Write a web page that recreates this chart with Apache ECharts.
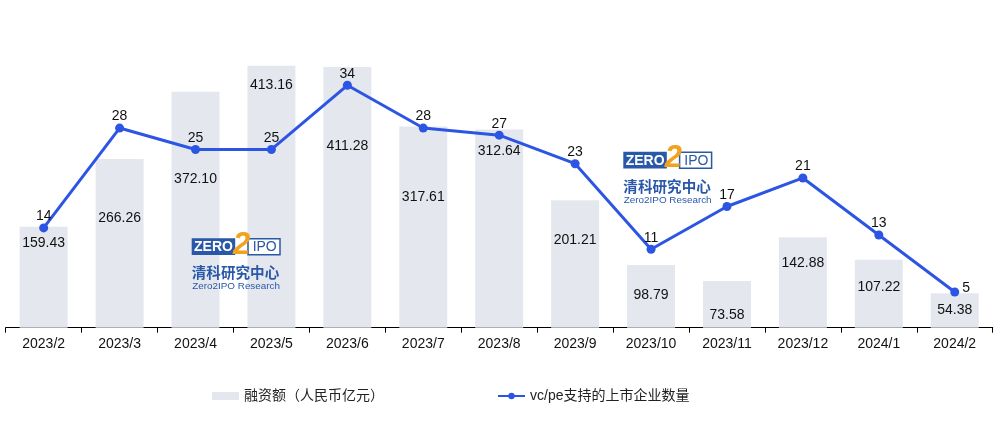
<!DOCTYPE html>
<html>
<head>
<meta charset="utf-8">
<script src="https://cdn.jsdelivr.net/npm/echarts@6/dist/echarts.min.js"></script>
<style>
html,body{margin:0;padding:0;background:#fff;}
#chart{width:998px;height:428px;}
</style>
</head>
<body>
<div id="chart"></div>
<script>
const categories = ['2023/2','2023/3','2023/4','2023/5','2023/6','2023/7','2023/8','2023/9','2023/10','2023/11','2023/12','2024/1','2024/2'];
const financing = [159.43, 266.26, 372.10, 413.16, 411.28, 317.61, 312.64, 201.21, 98.79, 73.58, 142.88, 107.22, 54.38];
const companies = [14, 28, 25, 25, 34, 28, 27, 23, 11, 17, 21, 13, 5];
const seriesNames = ['融资额（人民币亿元）', 'vc/pe支持的上市企业数量'];

// label placement (style only): distance of bar label centre below bar top
const barLabelDy = [17.6, 60, 88.7, 20.5, 80.6, 71.6, 22.3, 40.7, 30.7, 34.7, 27, 28.3, 17.7];

const FONT = '"Liberation Sans", Arial, "Noto Sans CJK SC", sans-serif';
const BLUE = '#2D55E4';
const LOGO = '#2A58A8';

function logo(ox, oy) {
  const Z = 100;
  return {
    type: 'group', z: Z, silent: true,
    children: [
      {type:'rect', z:Z, shape:{x:ox, y:oy, width:43.5, height:16.7}, style:{fill:LOGO}},
      {type:'rect', z:Z, shape:{x:ox+56.3, y:oy+0.5, width:32, height:16}, style:{fill:'#fff', stroke:LOGO, lineWidth:1.5}},
      {type:'text', z:Z+1, style:{text:'ZERO', x:ox+21.8, y:oy+9, textAlign:'center', textVerticalAlign:'middle', fill:'#fff', font:'bold 14px ' + FONT}},
      {type:'text', z:Z+1, style:{text:'IPO', x:ox+73, y:oy+9, textAlign:'center', textVerticalAlign:'middle', fill:LOGO, font:'14px ' + FONT}},
      {type:'text', z:Z+2, style:{text:'2', x:ox+50, y:oy+7, textAlign:'center', textVerticalAlign:'middle', fill:'#F2A21C', font:'italic bold 31px ' + FONT}},
      {type:'text', z:Z+1, style:{text:'清科研究中心', x:ox, y:oy+34.4, textAlign:'left', textVerticalAlign:'middle', fill:LOGO, font:'bold 14.6px "Noto Sans CJK SC", sans-serif'}},
      {type:'text', z:Z+1, style:{text:'Zero2IPO Research', x:ox+0.5, y:oy+48.4, textAlign:'left', textVerticalAlign:'middle', fill:LOGO, font:'9.9px ' + FONT}}
    ]
  };
}

const barData = financing.map((v, i) => ({
  value: v,
  label: { offset: [0, barLabelDy[i] - 8] }
}));
const lineData = companies.map((v, i) => (i === companies.length - 1
  ? { value: v, label: { position: 'right', distance: 3, offset: [0, -4] } }
  : { value: v }));

const chart = echarts.init(document.getElementById('chart'), null, {renderer: 'canvas'});
chart.setOption({
  animation: false,
  backgroundColor: '#fff',
  textStyle: { fontFamily: FONT },
  grid: { left: 5.7, right: 5.3, top: 42.5, bottom: 100.3, containLabel: false },
  legend: {
    left: 212, top: 389,
    padding: 0,
    itemGap: 113,
    itemWidth: 27, itemHeight: 8,
    textStyle: { fontSize: 14, color: '#222', fontFamily: FONT },
    data: [
      { name: seriesNames[0], icon: 'rect' },
      { name: seriesNames[1] }
    ]
  },
  xAxis: {
    type: 'category',
    data: categories,
    axisLine: { lineStyle: { color: '#000', width: 1 } },
    axisTick: { show: true, alignWithLabel: false, length: 5, lineStyle: { color: '#000' } },
    axisLabel: { color: '#111', fontSize: 14, margin: 9, fontFamily: FONT, interval: 0 },
    splitLine: { show: false }
  },
  yAxis: [
    { type: 'value', min: 0, max: 450, show: false, splitLine: { show: false } },
    { type: 'value', min: 0, max: 40, show: false, splitLine: { show: false } }
  ],
  series: [
    {
      name: seriesNames[0],
      type: 'bar',
      yAxisIndex: 0,
      barWidth: 48,
      itemStyle: { color: '#E4E8EE' },
      label: {
        show: true, position: 'insideTop', distance: 0,
        color: '#111', fontSize: 14, fontFamily: FONT,
        formatter: p => p.value.toFixed(2)
      },
      data: barData,
      z: 2
    },
    {
      name: seriesNames[1],
      type: 'line',
      yAxisIndex: 1,
      symbol: 'circle',
      symbolSize: 9,
      lineStyle: { color: BLUE, width: 3 },
      itemStyle: { color: BLUE },
      label: {
        show: true, position: 'top', distance: 0,
        color: '#111', fontSize: 14, fontFamily: FONT
      },
      data: lineData,
      z: 5
    }
  ],
  graphic: [ logo(191.7, 238.3), logo(623.3, 151.7) ]
});
</script>
</body>
</html>
